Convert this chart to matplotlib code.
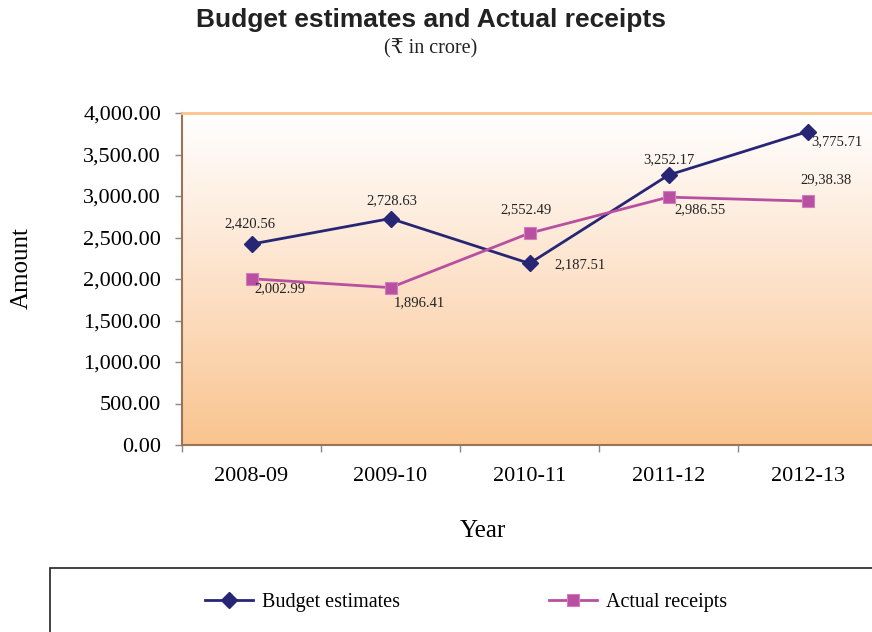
import numpy as np
import matplotlib.pyplot as plt
from matplotlib.patches import Rectangle
from matplotlib.colors import LinearSegmentedColormap

years = ['2008-09', '2009-10', '2010-11', '2011-12', '2012-13']
budget = [2420.56, 2728.63, 2187.51, 3252.17, 3775.71]
actual = [2002.99, 1896.41, 2552.49, 2986.55, 2938.38]
budget_labels = ['2,420.56', '2,728.63', '2,187.51', '3,252.17', '3,775.71']
actual_labels = ['2,002.99', '1,896.41', '2,552.49', '2,986.55', '29,38.38']
yticks = [0, 500, 1000, 1500, 2000, 2500, 3000, 3500, 4000]

# label offsets in pixels (dx, dy)
budget_off = [(-2, 20), (1, 18), (50, -1), (0, 15), (29, -10)]
actual_off = [(28, -10), (29, -15), (-4, 23), (31, -13), (18, 21)]

serif = ['Liberation Serif', 'DejaVu Serif', 'DejaVu Sans']
navy = '#262675'
pink = '#b94fa0'

fig = plt.figure(figsize=(8.72, 6.32), dpi=100)
ax = fig.add_axes([182 / 872, 1 - 445 / 632, 695 / 872, 332 / 632])

x = np.arange(len(years))
ax.set_xlim(-0.5, 4.5)
ax.set_ylim(0, 4000)

# white-to-orange fill behind the lines
cmap = LinearSegmentedColormap.from_list('bg', ['#f9c48f', '#fde2ca', '#ffffff'])
grad = np.linspace(0, 1, 256).reshape(-1, 1)
ax.imshow(grad, cmap=cmap, aspect='auto', extent=(-0.5, 4.5, 0, 4000),
          origin='lower', zorder=0)

ax.plot(x, budget, color=navy, lw=2, marker='D', ms=8, zorder=3,
        label='Budget estimates')
ax.plot(x, actual, color=pink, lw=2, marker='s', ms=9, mec='#d27cbc', mew=0.8,
        zorder=3, label='Actual receipts')

for i in range(len(years)):
    ax.annotate(budget_labels[i], (x[i], budget[i]), xytext=budget_off[i],
                textcoords='offset pixels', ha='center', va='center',
                fontsize=10.5, family=serif, color='#222222', zorder=4)
    ax.annotate(actual_labels[i], (x[i], actual[i]), xytext=actual_off[i],
                textcoords='offset pixels', ha='center', va='center',
                fontsize=10.5, family=serif, color='#222222', zorder=4)

ax.set_yticks(yticks)
ax.set_yticklabels([f'{v:,.2f}' for v in yticks], family=serif, fontsize=16)
ax.tick_params(axis='y', direction='out', length=5, width=1, color='#888888', pad=10)

ax.set_xticks(x)
ax.set_xticklabels(years, family=serif, fontsize=16)
ax.set_xticks(np.arange(-0.5, 5, 1), minor=True)
ax.tick_params(axis='x', which='major', length=0, pad=16)
ax.tick_params(axis='x', which='minor', direction='out', length=5, width=1, color='#888888')

for side in ['left', 'bottom']:
    ax.spines[side].set_color('#9a7458')
    ax.spines[side].set_linewidth(1.5)
ax.spines['top'].set_color('#fcc48c')
ax.spines['top'].set_linewidth(2)
ax.spines['right'].set_visible(False)

fig.text(22 / 872, 1 - 268 / 632, 'Amount', rotation=90, ha='center', va='center',
         family=serif, fontsize=18)
fig.text(483 / 872, 1 - 531 / 632, 'Year', ha='center', va='center',
         family=serif, fontsize=18)

fig.text(431 / 872, 1 - 20 / 632, 'Budget estimates and Actual receipts',
         ha='center', va='center', fontsize=19, fontweight='bold',
         family=['Liberation Sans', 'DejaVu Sans'], color='#222222')
fig.text(431 / 872, 1 - 49 / 632, '(₹ in crore)', ha='center', va='center',
         fontsize=14.5, family=serif, color='#222222')

# legend box at the bottom
fig.patches.append(Rectangle((50 / 872, -0.01), 0.96, 1 - 568 / 632 + 0.01,
                             transform=fig.transFigure, fill=False,
                             edgecolor='#222222', lw=1.2))
handles, labels = ax.get_legend_handles_labels()
fig.legend(handles, labels, loc='center', bbox_to_anchor=(466 / 872, 1 - 602 / 632),
           ncol=2, frameon=False, prop={'family': serif, 'size': 14.5},
           handlelength=2.4, handletextpad=0.45, columnspacing=7.4)

fig.savefig('out.png', dpi=100)
